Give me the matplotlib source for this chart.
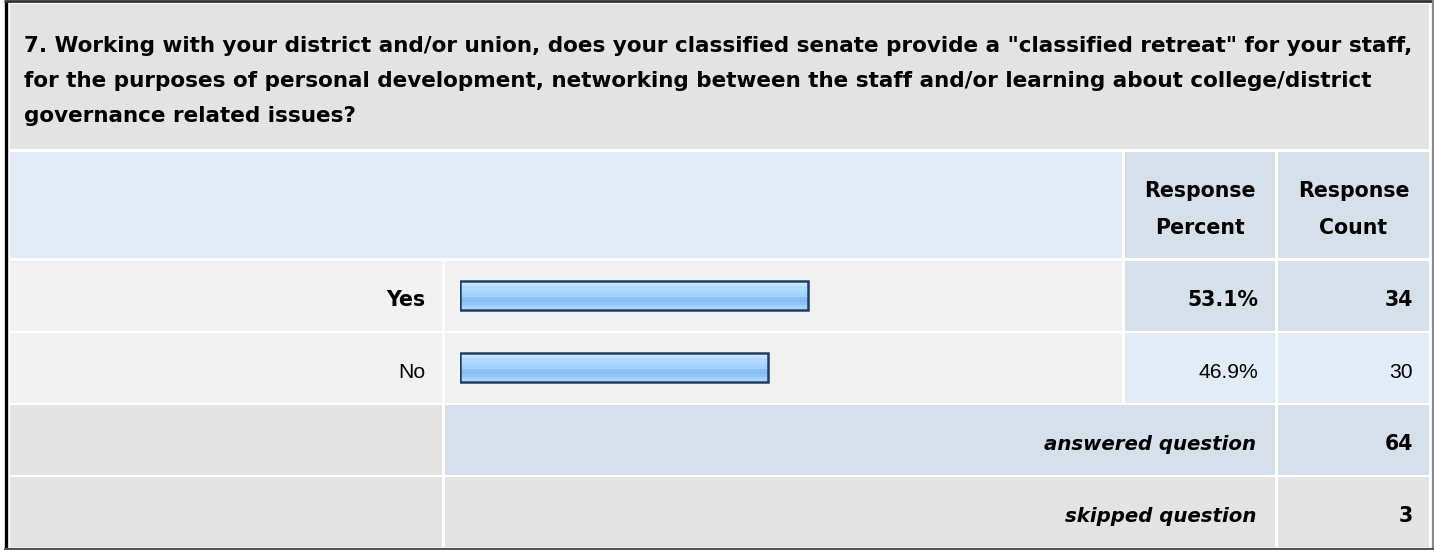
import numpy as np
import matplotlib.pyplot as plt
from matplotlib.patches import Rectangle
from matplotlib.colors import ListedColormap

question = [
    '7. Working with your district and/or union, does your classified senate provide a "classified retreat" for your staff,',
    'for the purposes of personal development, networking between the staff and/or learning about college/district',
    'governance related issues?',
]
answers = ['Yes', 'No']
percents = [53.1, 46.9]
counts = [34, 30]
answered = 64
skipped = 3

W, H = 1434, 550
FS = 14.8

# the reference bold is wide, DejaVu bold fits it; plain text is Arial-like
TITLE = dict(fontsize=15.5, fontweight='bold', family='DejaVu Sans')
BOLD = dict(fontsize=FS, fontweight='bold', family='DejaVu Sans')
PLAIN = dict(fontsize=15.2, fontweight='normal', family='Liberation Sans')
BITAL = dict(fontsize=14.2, fontweight='bold', style='oblique', family='DejaVu Sans')

gray = '#e3e3e3'
lgray = '#f1f1f1'
lblue = '#e2ecf6'
mblue = '#d5e0ea'

fig = plt.figure(figsize=(W / 100, H / 100), dpi=100)
bg = fig.add_axes([0, 0, 1, 1])
bg.set_xlim(0, W)
bg.set_ylim(H, 0)
bg.axis('off')


def cell(x0, x1, y0, y1, color):
    bg.add_patch(Rectangle((x0, y0), x1 - x0, y1 - y0, facecolor=color, edgecolor='none'))


# column / row edges in pixels
cols = [(10, 442), (445, 1122), (1125, 1275), (1278, 1429)]
rows = [(4, 149), (152, 258), (261, 331), (333, 403), (405, 475), (477, 547)]

# title
cell(10, 1429, *rows[0], gray)
for i, line in enumerate(question):
    bg.text(24, 52 + 35 * i, line, va='baseline', ha='left', **TITLE)

# header
cell(cols[0][0], cols[1][1], *rows[1], lblue)
cell(*cols[2], *rows[1], mblue)
cell(*cols[3], *rows[1], mblue)
for c, word in [(cols[2], 'Percent'), (cols[3], 'Count')]:
    xc = (c[0] + c[1]) / 2
    bg.text(xc, 197, 'Response', ha='center', va='baseline', **BOLD)
    bg.text(xc, 234, word, ha='center', va='baseline', **BOLD)

# answer rows
for i, (a, p, n) in enumerate(zip(answers, percents, counts)):
    y0, y1 = rows[2 + i]
    base = (y0 + y1) / 2 + 10.5
    st = BOLD if i == 0 else PLAIN
    pc = mblue if i == 0 else lblue
    cell(*cols[0], y0, y1, lgray)
    cell(*cols[1], y0, y1, lgray)
    cell(*cols[2], y0, y1, pc)
    cell(*cols[3], y0, y1, pc)
    bg.text(425, base, a, ha='right', va='baseline', **st)
    bg.text(1258, base, f'{p:.1f}%', ha='right', va='baseline', **st)
    bg.text(1413, base, str(n), ha='right', va='baseline', **st)

# totals
for i, (lab, val, color) in enumerate([('answered question', answered, mblue),
                                       ('skipped question', skipped, gray)]):
    y0, y1 = rows[4 + i]
    base = (y0 + y1) / 2 + 10.5
    cell(*cols[0], y0, y1, gray)
    cell(cols[1][0], cols[2][1], y0, y1, color)
    cell(*cols[3], y0, y1, color)
    bg.text(1256, base, lab, ha='right', va='baseline', **BITAL)
    bg.text(1413, base, str(val), ha='right', va='baseline', **BOLD)

# outer frame
bg.plot([5.5, 5.5], [1, 549], color='black', lw=2.4, solid_capstyle='butt')
bg.plot([4, 1434], [1.2, 1.2], color='#333333', lw=2.0, solid_capstyle='butt')
bg.plot([1432.5, 1432.5], [0, 549], color='#8a8a8a', lw=1.6, solid_capstyle='butt')
bg.plot([4, 1434], [548.8, 548.8], color='#555555', lw=1.6, solid_capstyle='butt')

# bars
bx = fig.add_axes([460 / W, (H - 403) / H, 656 / W, 143 / H])
bx.patch.set_visible(False)
grad_cols = ['#d6ecff', '#bfe1ff', '#b3dbff', '#addaff', '#a8d5fd', '#a2d1fb',
             '#8cc2f4', '#86bdf2', '#8fc4f5', '#a0cffa', '#acd7fd']
cmap = ListedColormap(grad_cols)
grad = np.arange(len(grad_cols)).reshape(-1, 1)
h = 0.40
for i, p in enumerate(percents):
    bx.imshow(grad, extent=(0, p, i + h / 2, i - h / 2), aspect='auto', cmap=cmap,
              interpolation='nearest', origin='upper')
bx.barh(range(len(percents)), percents, height=h, fill=False, edgecolor='#1f3e66', linewidth=1.8)
bx.set_xlim(0, 100)
bx.set_ylim(1.5, -0.5)
bx.axis('off')

fig.savefig('out.png', dpi=100)
